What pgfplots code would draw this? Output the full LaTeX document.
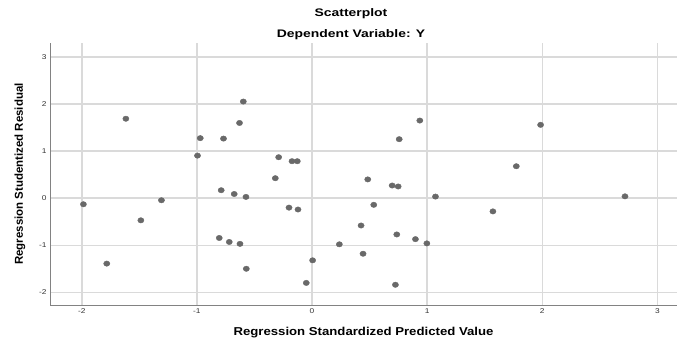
\documentclass[border=0pt]{standalone}
\usepackage{fontspec}
\setmainfont{Liberation Sans}
\newfontfamily\wideA[FakeStretch=1.27]{Liberation Sans}
\newfontfamily\wideB[FakeStretch=1.15]{Liberation Sans}
\newfontfamily\wideC[FakeStretch=1.2]{Liberation Sans}
\usepackage{pgfplots}
\pgfplotsset{compat=1.18}
\definecolor{ptc}{RGB}{105,105,105}
\definecolor{gridc}{RGB}{218,218,218}
\definecolor{axc}{RGB}{130,130,130}
\begin{document}
\begin{tikzpicture}[x=1bp,y=1bp]
\useasboundingbox (0,0) rectangle (678,341);
\begin{axis}[
  at={(50bp,36bp)}, anchor=south west,
  scale only axis, width=627bp, height=262bp,
  xmin=-2.276, xmax=3.17, ymin=-2.27, ymax=3.30,
  xtick={-2,-1,0,1,2,3}, ytick={-2,-1,0,1,2,3},
  grid=major, grid style={color=gridc, line width=1.5bp},
  axis x line*=bottom, axis y line*=left,
  axis line style={axc, line width=0.8pt},
  tick style={draw=none},
  /pgf/number format/assume math mode=true,
  tick label style={font=\wideC\fontsize{7}{8}\selectfont, text=black!80},
  xlabel={Regression Standardized Predicted Value},
  ylabel={Regression Studentized Residual},
  xlabel style={font=\wideB\bfseries\fontsize{11.5}{13}\selectfont, at={(axis description cs:0.5,-0.107)}, anchor=center},
  ylabel style={font=\bfseries\fontsize{11.5}{13}\selectfont, at={(axis description cs:-0.048,0.5)}, anchor=center},
]
\addplot[color=ptc, only marks, mark=*, mark size=2.7bp, mark options={fill=ptc, draw=ptc, line width=0.4bp, xscale=1.15}] coordinates {
(-1.617,1.69) (-0.971,1.277) (-0.995,0.906) (-0.769,1.268) (-0.630,1.60)
(-0.597,2.055) (-0.290,0.872) (-0.174,0.787) (-0.128,0.787)
(0.936,1.651) (0.757,1.255) (1.985,1.56) (1.774,0.68)
(-1.986,-0.128) (-1.783,-1.39) (-1.487,-0.47) (-1.308,-0.043)
(-0.789,0.17) (-0.676,0.09) (-0.574,0.028) (-0.319,0.426)
(-0.2,-0.2) (-0.122,-0.24) (-0.806,-0.845) (-0.719,-0.93)
(-0.626,-0.97) (-0.571,-1.50) (0.005,-1.32) (-0.05,-1.80) (0.237,-0.98)
(0.484,0.40) (0.696,0.27) (0.748,0.25) (1.072,0.035) (2.718,0.04)
(0.536,-0.14) (1.571,-0.28) (0.426,-0.58) (0.736,-0.77) (0.898,-0.87)
(0.997,-0.96) (0.443,-1.18) (0.724,-1.84)
};
\end{axis}
\node[font=\wideA\bfseries\fontsize{11}{13}\selectfont] at (351,327) {Scatterplot};
\node[font=\wideA\bfseries\fontsize{11}{13}\selectfont] at (351,306) {Dependent Variable: Y};
\end{tikzpicture}
\end{document}
